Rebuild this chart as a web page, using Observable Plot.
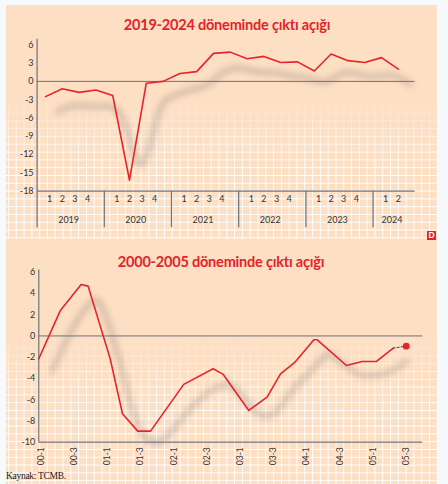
<!DOCTYPE html>
<html>
<head>
<meta charset="utf-8">
<script src="https://cdn.jsdelivr.net/npm/d3@7"></script>
<script src="https://cdn.jsdelivr.net/npm/@observablehq/plot@0.6"></script>
<style>
  html, body { margin: 0; padding: 0; background: #f7fafc; }
  #wrap { position: relative; width: 448px; height: 484px; overflow: hidden; background: #f7fafc; font-family: Lato, "Open Sans", sans-serif; }
  #panel { position: absolute; left: 6px; top: 5px; width: 431px; height: 479px; background: #fddfc3; }
  .grid { position: absolute; left: 6px; width: 431px;
    background-image: linear-gradient(to right, rgba(255,255,255,0.95) 1px, transparent 1px),
                      linear-gradient(to bottom, rgba(255,255,255,0.95) 1px, transparent 1px);
    background-size: 7.8px 7.8px; background-position: 2px 2px;
    -webkit-mask-image: linear-gradient(to bottom, transparent 0%, rgba(0,0,0,0.75) 35%, #000 55%);
    mask-image: linear-gradient(to bottom, transparent 0%, rgba(0,0,0,0.75) 35%, #000 55%); }
  .title { position: absolute; width: 448px; text-align: center; font-weight: 700; color: #e3232a; font-size: 14.5px; letter-spacing: -0.2px; line-height: 16px; }
  .plot { position: absolute; left: 0; }
  #source { position: absolute; left: 6px; top: 471px; font-family: "Liberation Serif", serif; font-size: 9.5px; color: #222; letter-spacing: -0.3px; }
  #logo { position: absolute; left: 427px; top: 231px; width: 9px; height: 9px; background: #e3232a; color: #fff; font-weight: 900; font-size: 8px; line-height: 9px; text-align: center; }
</style>
</head>
<body>
<div id="wrap">
  <div id="panel"></div>
  <div class="grid" style="top:95px;height:144px;"></div>
  <div class="grid" style="top:330px;height:154px;"></div>
  <div class="title" style="top:17px;left:3px;">2019-2024 döneminde çıktı açığı</div>
  <div class="title" style="top:254px;left:-3px;">2000-2005 döneminde çıktı açığı</div>
  <div id="top" class="plot" style="top:0px;"></div>
  <div id="bottom" class="plot" style="top:250px;"></div>
  <div id="logo">D</div>
  <div id="source">Kaynak: TCMB.</div>
</div>
<script>
// ---- Data: 2019-2024 output gap (quarterly) ----
const topYears = ["2019", "2020", "2021", "2022", "2023", "2024"];
const topQuartersPerYear = [4, 4, 4, 4, 4, 2];
const topQuarterNames = ["1", "2", "3", "4"];
const topValues = [-2.5, -1.2, -1.8, -1.4, -2.3, -16.2, -0.3, 0.0, 1.3, 1.6, 4.6, 4.8, 3.7, 4.1, 3.1, 3.2, 1.7, 4.5, 3.4, 3.1, 3.9, 2.0];
const topYTicks = [6, 3, 0, -3, -6, -9, -12, -15, -18];

// ---- Data: 2000-2005 output gap ----
const bottomT = [-0.3, 1.0, 2.25, 2.67, 4.0, 4.74, 5.66, 6.43, 8.43, 10.2, 10.81, 12.35, 13.45, 14.26, 15.1, 16.27, 16.47, 18.23, 19.18, 20.04, 21.05];
const bottomValues = [-2.15, 2.4, 4.85, 4.69, -2.15, -7.32, -8.96, -8.96, -4.56, -3.09, -3.62, -7.01, -5.76, -3.56, -2.52, -0.36, -0.36, -2.78, -2.4, -2.4, -1.15];
const bottomDotT = [21.83];
const bottomDotValues = [-0.96];
const bottomTickLabels = ["00-1", "00-3", "01-1", "01-3", "02-1", "02-3", "03-1", "03-3", "04-1", "04-3", "05-1", "05-3"];
const bottomYTicks = [6, 4, 2, 0, -2, -4, -6, -8, -10];

const RED = "#e8232a";
const AXIS = "#6d737a";

// ---- Top chart ----
const topData = topValues.map((v, i) => ({i, v}));
const qLabels = [];
const yLabels = [];
const seps = [];
topYears.forEach((y, k) => {
  const n = topQuartersPerYear[k];
  for (let q = 0; q < n; q++) qLabels.push({x: 4 * k + 0.25 + 0.75 * q, text: topQuarterNames[q]});
  yLabels.push({x: 4 * k + 0.25 + 0.75 * (n - 1) / 2, text: y});
  if (k > 0) seps.push(4 * k - 0.5);
});

const topPlot = Plot.plot({
  width: 448,
  height: 240,
  marginTop: 44.3,
  marginBottom: 49.3,
  marginLeft: 36.6,
  marginRight: 33.4,
  style: {background: "transparent", overflow: "visible", fontFamily: "Lato, sans-serif", fontSize: "9px", color: "#333"},
  x: {domain: [-0.5, 22], axis: null},
  y: {domain: [-18, 6]},
  marks: [
    Plot.line(topData, {x: "i", y: "v", stroke: "#555", strokeOpacity: 0.28, strokeWidth: 5, curve: "basis", dx: 12, dy: 15}),
    Plot.ruleY([0], {x1: -0.5, x2: 22, stroke: AXIS, strokeWidth: 1}),
    Plot.ruleY([-18], {x1: -0.5, x2: 22, stroke: AXIS, strokeWidth: 1.2}),
    Plot.ruleX([-0.5], {y1: -24, y2: 6.9, stroke: AXIS, strokeWidth: 1.2}),
    Plot.ruleX(seps, {y1: -24, y2: -18, stroke: AXIS, strokeWidth: 1.2}),
    Plot.axisY({ticks: topYTicks, tickSize: 0, tickPadding: 3.5, label: null, fontSize: 9, tickFormat: d => String(d)}),
    Plot.line(topData, {x: "i", y: "v", stroke: RED, strokeWidth: 1.6}),
    Plot.text(qLabels, {x: "x", text: "text", frameAnchor: "bottom", dy: 11, fontSize: 9, fill: "#333"}),
    Plot.text(yLabels, {x: "x", text: "text", frameAnchor: "bottom", dy: 32, fontSize: 9, fill: "#333"})
  ]
});
document.getElementById("top").appendChild(topPlot);

// ---- Bottom chart ----
const bottomData = bottomT.map((t, i) => ({t, v: bottomValues[i]}));
const dotData = bottomDotT.map((t, i) => ({t, v: bottomDotValues[i]}));
const linkData = [bottomData[bottomData.length - 1], dotData[0]];
const tickData = bottomTickLabels.map((s, k) => ({t: 2 * k, text: s}));

const bottomPlot = Plot.plot({
  width: 448,
  height: 234,
  marginTop: 21.7,
  marginBottom: 42.3,
  marginLeft: 38.3,
  marginRight: 25.7,
  style: {background: "transparent", overflow: "visible", fontFamily: "Lato, sans-serif", fontSize: "9px", color: "#333"},
  x: {domain: [-0.3, 22.83], axis: null},
  y: {domain: [-10, 6]},
  marks: [
    Plot.line(bottomData, {x: "t", y: "v", stroke: "#555", strokeOpacity: 0.28, strokeWidth: 5, curve: "basis", dx: 13, dy: 13}),
    Plot.ruleY([0], {x1: -0.3, x2: 22.83, stroke: AXIS, strokeWidth: 1}),
    Plot.ruleY([-10], {x1: -0.3, x2: 22.83, stroke: AXIS, strokeWidth: 1.2}),
    Plot.ruleX([-0.3], {y1: -10, y2: 6.2, stroke: AXIS, strokeWidth: 1.2}),
    Plot.axisY({ticks: bottomYTicks, tickSize: 0, tickPadding: 3.5, label: null, fontSize: 9, tickFormat: d => String(d)}),
    Plot.line(bottomData, {x: "t", y: "v", stroke: RED, strokeWidth: 1.6}),
    Plot.line(linkData, {x: "t", y: "v", stroke: "#444", strokeWidth: 1, strokeDasharray: "2,2"}),
    Plot.dot(dotData, {x: "t", y: "v", r: 3.4, fill: RED}),
    Plot.text(tickData, {x: "t", text: "text", frameAnchor: "bottom", dy: 5, rotate: -90, textAnchor: "end", fontSize: 8.5, fill: "#333"})
  ]
});
document.getElementById("bottom").appendChild(bottomPlot);

// blur the shadow lines (first line group in each chart)
[topPlot, bottomPlot].forEach(svg => {
  const g = svg.querySelector('g[aria-label="line"]');
  if (g) g.style.filter = "blur(3px)";
});
</script>
</body>
</html>
